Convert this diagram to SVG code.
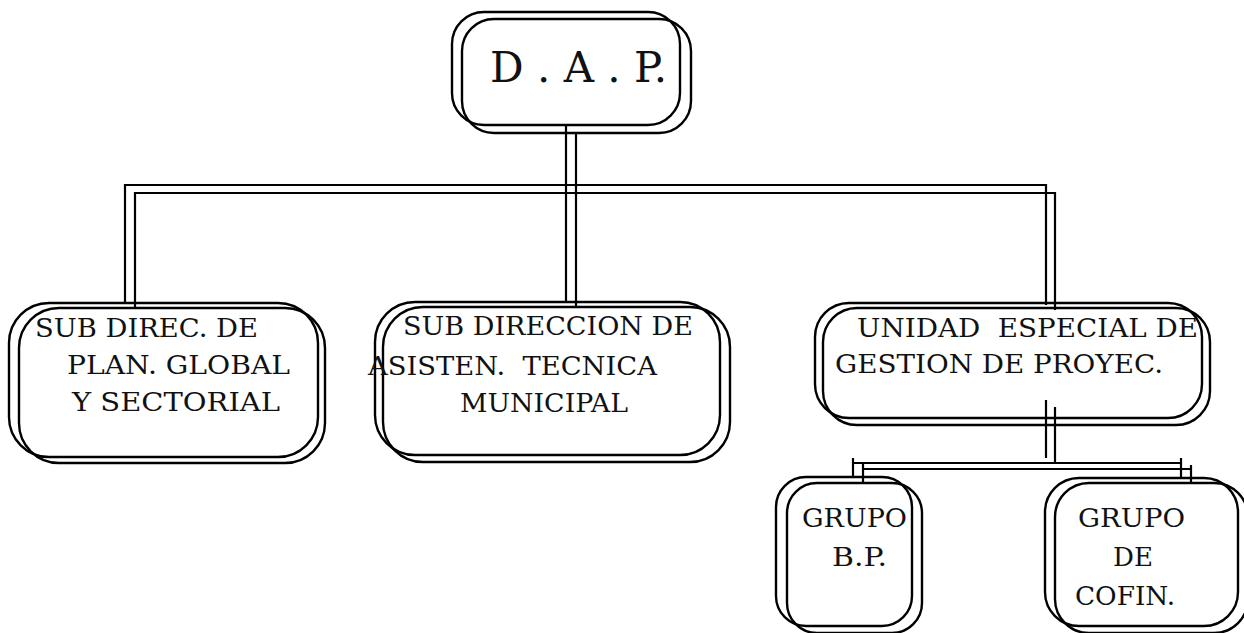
<svg xmlns="http://www.w3.org/2000/svg" width="1244" height="633" viewBox="0 0 1244 633">
<style>
.b{fill:none;stroke:#000;stroke-width:2.4}
.c{fill:none;stroke:#000;stroke-width:2.2}
text{font-family:'DejaVu Serif','Liberation Serif',serif;font-size:26.5px;fill:#111;white-space:pre}
.g{font-size:26px}
.d{font-size:42px}
</style>
<rect width="1244" height="633" fill="#fff"/>
<g id="connectors">
<polyline class="c" points="125,302 125,185 1046,185 1046,305"/>
<polyline class="c" points="135,307 135,193 1055,193 1055,310"/>
<line class="c" x1="566" y1="125" x2="566" y2="302"/>
<line class="c" x1="576" y1="133" x2="576" y2="307"/>
<line class="c" x1="1046" y1="400" x2="1046" y2="458"/>
<line class="c" x1="1055" y1="407" x2="1055" y2="463"/>
<line class="c" x1="853" y1="463" x2="1181" y2="463"/>
<line class="c" x1="863" y1="469" x2="1191" y2="469"/>
<line class="c" x1="853" y1="458" x2="853" y2="477"/>
<line class="c" x1="863" y1="463" x2="863" y2="483"/>
<line class="c" x1="1181" y1="458" x2="1181" y2="478"/>
<line class="c" x1="1191" y1="465" x2="1191" y2="483"/>
</g>
<g id="dap">
<rect class="b" x="452" y="12" width="228" height="113" rx="32"/>
<rect class="b" x="462" y="19" width="229" height="114" rx="32"/>
<text class="d" x="490" y="82" textLength="177" lengthAdjust="spacingAndGlyphs">D . A . P.</text>
</g>
<g id="subdirec-plan">
<rect class="b" x="9" y="303" width="309" height="154" rx="40"/>
<rect class="b" x="19" y="308" width="306" height="155" rx="40"/>
<text x="35" y="337" textLength="223" lengthAdjust="spacingAndGlyphs">SUB DIREC. DE</text>
<text x="67" y="374" textLength="223" lengthAdjust="spacingAndGlyphs">PLAN. GLOBAL</text>
<text x="72" y="411" textLength="208" lengthAdjust="spacingAndGlyphs">Y SECTORIAL</text>
</g>
<g id="subdireccion-asisten">
<rect class="b" x="375" y="302" width="345" height="153" rx="40"/>
<rect class="b" x="383" y="307" width="347" height="155" rx="40"/>
<text x="403" y="335" textLength="290" lengthAdjust="spacingAndGlyphs">SUB DIRECCION DE</text>
<text x="368" y="375" textLength="289" lengthAdjust="spacingAndGlyphs">ASISTEN.  TECNICA</text>
<text x="460" y="412" textLength="168" lengthAdjust="spacingAndGlyphs">MUNICIPAL</text>
</g>
<g id="unidad-especial">
<rect class="b" x="815" y="303" width="387" height="115" rx="34"/>
<rect class="b" x="823" y="308" width="387" height="117" rx="34"/>
<text x="857" y="337" textLength="341" lengthAdjust="spacingAndGlyphs">UNIDAD  ESPECIAL DE</text>
<text x="835" y="373" textLength="328" lengthAdjust="spacingAndGlyphs">GESTION DE PROYEC.</text>
</g>
<g id="grupo-bp">
<rect class="b" x="776" y="477" width="136" height="149" rx="30"/>
<rect class="b" x="787" y="483" width="135" height="150" rx="30"/>
<text class="g" x="802" y="527" textLength="105" lengthAdjust="spacingAndGlyphs">GRUPO</text>
<text class="g" x="832" y="566" textLength="55" lengthAdjust="spacingAndGlyphs">B.P.</text>
</g>
<g id="grupo-cofin">
<rect class="b" x="1045" y="478" width="193" height="148" rx="34"/>
<rect class="b" x="1055" y="483" width="193" height="150" rx="34"/>
<text class="g" x="1078" y="527" textLength="107" lengthAdjust="spacingAndGlyphs">GRUPO</text>
<text class="g" x="1113" y="566" textLength="40" lengthAdjust="spacingAndGlyphs">DE</text>
<text class="g" x="1075" y="605" textLength="100" lengthAdjust="spacingAndGlyphs">COFIN.</text>
</g>
</svg>
